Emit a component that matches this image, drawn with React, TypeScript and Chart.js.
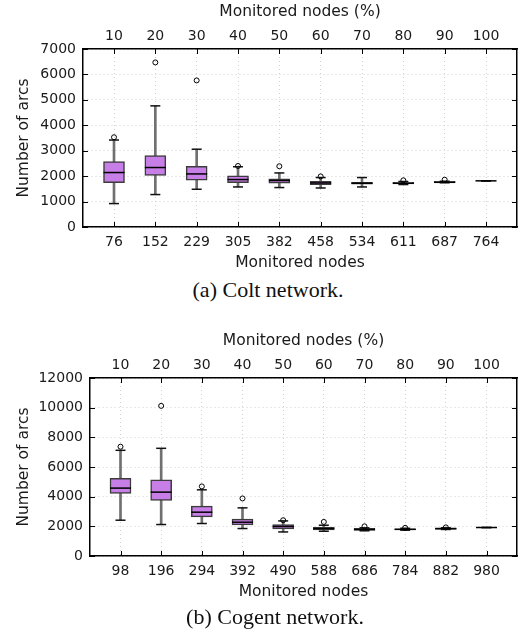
import React, { useEffect, useRef } from "react";
import { Chart, registerables } from "chart.js";

Chart.register(...registerables);

// ---------- data ----------
const percentLabels = ["10", "20", "30", "40", "50", "60", "70", "80", "90", "100"];

const coltNodes = ["76", "152", "229", "305", "382", "458", "534", "611", "687", "764"];
const coltLowWhisker = [921, 1276, 1484, 1575, 1551, 1535, 1575, 1670, 1740, 1815];
const coltQ1 = [1748, 2024, 1839, 1748, 1720, 1660, 1680, 1690, 1735, 1815];
const coltMedian = [2142, 2339, 2087, 1866, 1827, 1732, 1720, 1720, 1760, 1815];
const coltQ3 = [2575, 2811, 2390, 2008, 1890, 1799, 1760, 1755, 1795, 1815];
const coltHighWhisker = [3420, 4764, 3059, 2370, 2126, 1945, 1945, 1790, 1800, 1815];
const coltOutliers = [[3530], [6472], [5764], [2400], [2390], [1990], [], [1835], [1860], []];

const cogentNodes = ["98", "196", "294", "392", "490", "588", "686", "784", "882", "980"];
const cogentLowWhisker = [2413, 2122, 2190, 1852, 1622, 1670, 1700, 1740, 1790, 1920];
const cogentQ1 = [4218, 3745, 2636, 2096, 1825, 1760, 1720, 1760, 1800, 1920];
const cogentMedian = [4577, 4306, 2954, 2278, 1990, 1850, 1790, 1800, 1850, 1920];
const cogentQ3 = [5232, 5138, 3360, 2481, 2122, 1940, 1870, 1840, 1880, 1920];
const cogentHighWhisker = [7125, 7260, 4462, 3245, 2366, 2075, 1900, 1870, 1900, 1920];
const cogentOutliers = [[7368], [10120], [4691], [3880], [2413], [2298], [2000], [1900], [1930], []];

const coltYMax = 7000;
const coltYStep = 1000;
const cogentYMax = 12000;
const cogentYStep = 2000;

// ---------- styling ----------
const FONT = "'DejaVu Sans', sans-serif";
const TEXT = "#1a1a1a";
const BOX_FILL = "#c77ee6";
const BOX_BORDER = "#3c3c3c";
const WHISKER = "#707070";

const inwardTicks = {
  id: "inwardTicks",
  afterDraw(chart: any) {
    const { ctx, chartArea: a, scales } = chart;
    const x = scales.x;
    const y = scales.y;
    ctx.save();
    ctx.strokeStyle = "#000";
    ctx.lineWidth = 1;
    ctx.beginPath();
    x.ticks.forEach((t: any) => {
      const px = Math.round(x.getPixelForValue(t.value)) + 0.5;
      ctx.moveTo(px, a.bottom);
      ctx.lineTo(px, a.bottom - 5);
      ctx.moveTo(px, a.top);
      ctx.lineTo(px, a.top + 5);
    });
    y.ticks.forEach((t: any) => {
      const py = Math.round(y.getPixelForValue(t.value)) + 0.5;
      ctx.moveTo(a.left, py);
      ctx.lineTo(a.left + 5, py);
      ctx.moveTo(a.right, py);
      ctx.lineTo(a.right - 5, py);
    });
    ctx.stroke();
    ctx.restore();
  },
};

type BoxProps = {
  nodes: string[];
  low: number[];
  q1: number[];
  med: number[];
  q3: number[];
  high: number[];
  outliers: number[][];
  yMax: number;
  yStep: number;
  leftWidth: number;
  top: number;
};

const CANVAS_W = 531;
const CANVAS_H = 276;

function BoxChart(p: BoxProps) {
  const ref = useRef<HTMLCanvasElement>(null);

  useEffect(() => {
    if (!ref.current) return;
    const pos = p.nodes.map((_, i) => i + 1);
    const setTicks = (s: any) => {
      s.ticks = pos.map((v) => ({ value: v }));
    };
    const xCommon = {
      type: "linear" as const,
      min: 0.25,
      max: 10.75,
      offset: false,
      afterBuildTicks: setTicks,
      border: { display: true, color: "#000", width: 1.5, dash: [1, 3] },
    };

    const outlierPts: any[] = [];
    p.outliers.forEach((arr, i) => arr.forEach((v) => outlierPts.push({ x: pos[i], y: v })));

    const chart = new Chart(ref.current, {
      type: "bar",
      data: {
        datasets: [
          {
            type: "bar",
            label: "whisker",
            data: pos.map((x, i) => ({ x, y: [p.low[i], p.high[i]] })),
            backgroundColor: WHISKER,
            borderWidth: 0,
            barThickness: 2,
            grouped: false,
            order: 3,
          } as any,
          {
            type: "bar",
            label: "box",
            data: pos.map((x, i) => ({ x, y: [p.q1[i], p.q3[i]] })),
            backgroundColor: BOX_FILL,
            borderColor: BOX_BORDER,
            borderWidth: 1.5,
            borderSkipped: false,
            barThickness: 21,
            grouped: false,
            order: 2,
          } as any,
          {
            type: "scatter",
            label: "caps",
            data: [
              ...pos.map((x, i) => ({ x, y: p.low[i] })),
              ...pos.map((x, i) => ({ x, y: p.high[i] })),
            ],
            pointStyle: "line",
            pointRadius: 5,
            borderColor: "#111",
            borderWidth: 1.5,
            order: 1,
          } as any,
          {
            type: "scatter",
            label: "median",
            data: pos.map((x, i) => ({ x, y: p.med[i] })),
            pointStyle: "line",
            pointRadius: 10.5,
            borderColor: "#000",
            borderWidth: 1.5,
            order: 0,
          } as any,
          {
            type: "scatter",
            label: "outliers",
            data: outlierPts,
            pointStyle: "circle",
            pointRadius: 2.5,
            backgroundColor: "rgba(0,0,0,0)",
            borderColor: "#000",
            borderWidth: 1,
            order: 0,
          } as any,
        ],
      },
      options: {
        responsive: false,
        animation: false,
        devicePixelRatio: 1,
        layout: { padding: { left: 0, right: 14, top: 0, bottom: 0 } },
        plugins: { legend: { display: false }, tooltip: { enabled: false } },
        scales: {
          x: {
            ...xCommon,
            position: "bottom",
            afterFit: (s: any) => {
              s.height = CANVAS_H - 227;
            },
            grid: { display: true, color: "#d0d0d0", lineWidth: 1, drawTicks: false, offset: false },
            ticks: {
              padding: 7,
              color: TEXT,
              font: { family: FONT, size: 14 },
              maxRotation: 0,
              autoSkip: false,
              callback: (v: any) => p.nodes[Number(v) - 1] ?? "",
            },
            title: {
              display: true,
              text: "Monitored nodes",
              color: TEXT,
              font: { family: FONT, size: 15.5 },
              padding: { top: 0, bottom: 4 },
            },
          },
          x2: {
            ...xCommon,
            position: "top",
            afterFit: (s: any) => {
              s.height = 49;
            },
            grid: { display: true, drawOnChartArea: false, drawTicks: false, offset: false },
            ticks: {
              padding: 4,
              color: TEXT,
              font: { family: FONT, size: 14 },
              maxRotation: 0,
              autoSkip: false,
              callback: (v: any) => percentLabels[Number(v) - 1] ?? "",
            },
            title: {
              display: true,
              text: "Monitored nodes (%)",
              color: TEXT,
              font: { family: FONT, size: 15.5 },
              padding: { top: 3, bottom: 0 },
            },
          },
          y: {
            type: "linear",
            position: "left",
            min: 0,
            max: p.yMax,
            afterFit: (s: any) => {
              s.width = p.leftWidth;
            },
            border: { display: true, color: "#000", width: 1.5, dash: [1, 3] },
            grid: { display: true, color: "#d0d0d0", lineWidth: 1, drawTicks: false },
            ticks: {
              stepSize: p.yStep,
              padding: 7,
              color: TEXT,
              font: { family: FONT, size: 14 },
              callback: (v: any) => String(v),
            },
            title: {
              display: true,
              text: "Number of arcs",
              color: TEXT,
              font: { family: FONT, size: 15.5 },
              padding: { top: 15, bottom: 0 },
            },
          },
          y2: {
            type: "linear",
            position: "right",
            min: 0,
            max: p.yMax,
            afterFit: (s: any) => {
              s.width = 0;
            },
            border: { display: true, color: "#000", width: 1.5 },
            grid: { display: true, drawOnChartArea: false, drawTicks: false },
            ticks: { display: false, stepSize: p.yStep },
          },
        } as any,
      },
      plugins: [inwardTicks],
    });
    return () => chart.destroy();
  }, []);

  return (
    <canvas
      ref={ref}
      width={CANVAS_W}
      height={CANVAS_H}
      style={{ position: "absolute", left: 0, top: p.top, width: CANVAS_W, height: CANVAS_H, display: "block" }}
    />
  );
}

const captionStyle: React.CSSProperties = {
  position: "absolute",
  left: 0,
  fontFamily: "'Liberation Serif', 'Times New Roman', serif",
  fontSize: 22,
  lineHeight: "22px",
  color: "#111",
  textAlign: "center",
  whiteSpace: "nowrap",
};

export default function App() {
  return (
    <div style={{ position: "absolute", left: 0, top: 0, width: 531, height: 637, background: "#fff", overflow: "hidden" }}>
      <BoxChart
        nodes={coltNodes}
        low={coltLowWhisker}
        q1={coltQ1}
        med={coltMedian}
        q3={coltQ3}
        high={coltHighWhisker}
        outliers={coltOutliers}
        yMax={coltYMax}
        yStep={coltYStep}
        leftWidth={83}
        top={0}
      />
      <div style={{ ...captionStyle, top: 279, width: 536 }}>(a) Colt network.</div>
      <BoxChart
        nodes={cogentNodes}
        low={cogentLowWhisker}
        q1={cogentQ1}
        med={cogentMedian}
        q3={cogentQ3}
        high={cogentHighWhisker}
        outliers={cogentOutliers}
        yMax={cogentYMax}
        yStep={cogentYStep}
        leftWidth={90}
        top={329}
      />
      <div style={{ ...captionStyle, top: 606, width: 550 }}>(b) Cogent network.</div>
    </div>
  );
}
